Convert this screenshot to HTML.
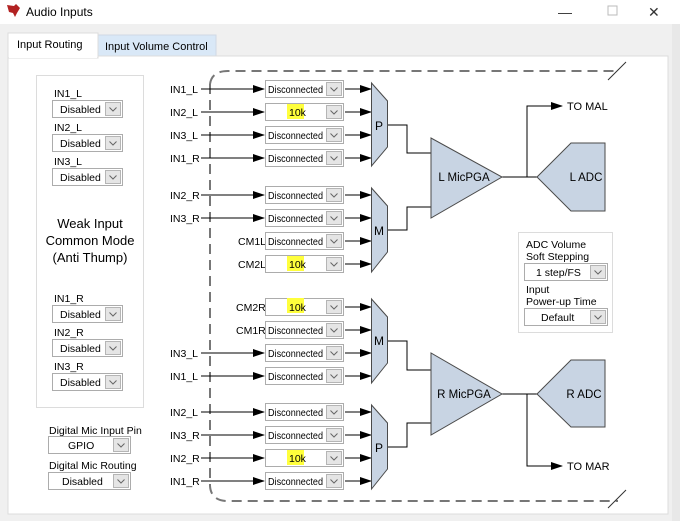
<!DOCTYPE html>
<html><head><meta charset="utf-8"><style>
html,body{margin:0;padding:0;background:#f0f0f0;}
svg{display:block;font-family:"Liberation Sans",sans-serif;}
.t{font-size:10.5px;fill:#000}
.d{font-size:10px}
.c{fill:#fff;stroke:#acacac;stroke-width:1}
.b{fill:#e5e5e5;stroke:#b5b5b5}
.v{fill:none;stroke:#666;stroke-width:1}
.w{stroke:#000;stroke-width:1;fill:none}
.s{fill:#c8d4e3;stroke:#4a4a4a;stroke-width:1}
</style></head><body>
<svg width="680" height="521" viewBox="0 0 680 521">
<defs>
<marker id="a" markerWidth="12" markerHeight="8" refX="11" refY="4" orient="auto" markerUnits="userSpaceOnUse"><path d="M0,0 L12,4 L0,8 Z" fill="#000"/></marker>
<g id="btn"><rect class="b" x="0" y="0" width="15" height="13"/><path class="v" d="M4,5 L7.5,8.5 L11,5"/></g>
</defs>
<rect x="0" y="0" width="680" height="24" fill="#fff"/>
<path d="M7,5 L14,6 L16,4 L20,8 L17,13 L15,17 L13,13 L9,12 Z" fill="#b22222"/>
<text x="26" y="16" style="font-size:12px">Audio Inputs</text>
<text x="558" y="17" style="font-size:14px" fill="#333">—</text>
<rect x="608" y="6" width="9" height="9" fill="none" stroke="#bbb"/>
<text x="648" y="17" style="font-size:14px" fill="#333">✕</text>
<rect x="672" y="24" width="8" height="497" fill="#e8e8e8"/>
<rect x="98" y="35" width="118" height="22" fill="#d9e8f7" stroke="#cfd9e4"/>
<text x="105" y="50" class="t" style="font-size:11px">Input Volume Control</text>
<rect x="8" y="56" width="660" height="458" fill="#fff" stroke="#dcdcdc"/>
<rect x="8" y="33" width="90" height="25" fill="#fff" stroke="#dcdcdc"/>
<rect x="9" y="55" width="88" height="3" fill="#fff"/>
<text x="17" y="48" class="t" style="font-size:11px">Input Routing</text>
<rect x="36.5" y="75.5" width="107" height="332" fill="#fff" stroke="#dcdcdc"/>
<g class="t">
<text x="54" y="97">IN1_L</text><text x="54" y="131">IN2_L</text><text x="54" y="165">IN3_L</text>
<text x="54" y="302">IN1_R</text><text x="54" y="336">IN2_R</text><text x="54" y="370">IN3_R</text>
</g>
<g>
<rect class="c" x="52.5" y="100.5" width="70" height="17"/><text class="t" x="60" y="113">Disabled</text><use href="#btn" x="105.5" y="102.5"/>
<rect class="c" x="52.5" y="134.5" width="70" height="17"/><text class="t" x="60" y="147">Disabled</text><use href="#btn" x="105.5" y="136.5"/>
<rect class="c" x="52.5" y="168.5" width="70" height="17"/><text class="t" x="60" y="181">Disabled</text><use href="#btn" x="105.5" y="170.5"/>
<rect class="c" x="52.5" y="305.5" width="70" height="17"/><text class="t" x="60" y="318">Disabled</text><use href="#btn" x="105.5" y="307.5"/>
<rect class="c" x="52.5" y="339.5" width="70" height="17"/><text class="t" x="60" y="352">Disabled</text><use href="#btn" x="105.5" y="341.5"/>
<rect class="c" x="52.5" y="373.5" width="70" height="17"/><text class="t" x="60" y="386">Disabled</text><use href="#btn" x="105.5" y="375.5"/>
</g>
<g style="font-size:13px" text-anchor="middle"><text x="90" y="228">Weak Input</text><text x="90" y="245">Common Mode</text><text x="90" y="262">(Anti Thump)</text></g>
<text class="t" x="49" y="434">Digital Mic Input Pin</text>
<rect class="c" x="48.5" y="436.5" width="82" height="17"/><text class="t" x="68" y="449">GPIO</text><use href="#btn" x="113.5" y="438.5"/>
<text class="t" x="49" y="469">Digital Mic Routing</text>
<rect class="c" x="48.5" y="472.5" width="82" height="17"/><text class="t" x="62" y="485">Disabled</text><use href="#btn" x="113.5" y="474.5"/>
<path d="M210,84 Q212,71 228,71 L618,71 M210,84 L210,486 Q211,500 226,501 L618,501" fill="none" stroke="#777" stroke-width="2" stroke-dasharray="10,6"/>
<path d="M608,80 L626,62 M608,508 L626,490" stroke="#333" stroke-width="1"/>
<g class="t">
<text x="170" y="93">IN1_L</text><text x="170" y="116">IN2_L</text><text x="170" y="139">IN3_L</text><text x="170" y="162">IN1_R</text>
<text x="170" y="199">IN2_R</text><text x="170" y="222">IN3_R</text><text x="238" y="245">CM1L</text><text x="238" y="268">CM2L</text>
<text x="236" y="311">CM2R</text><text x="236" y="334">CM1R</text><text x="170" y="357">IN3_L</text><text x="170" y="380">IN1_L</text>
<text x="170" y="416">IN2_L</text><text x="170" y="439">IN3_R</text><text x="170" y="462">IN2_R</text><text x="170" y="485">IN1_R</text>
</g>
<g class="w" marker-end="url(#a)">
<path d="M201,89H264"/><path d="M201,112H264"/><path d="M201,135H264"/><path d="M201,158H264"/>
<path d="M201,195H264"/><path d="M201,218H264"/>
<path d="M201,353H264"/><path d="M201,376H264"/>
<path d="M201,412H264"/><path d="M201,435H264"/><path d="M201,458H264"/><path d="M201,481H264"/>
<path d="M345,89H371"/><path d="M345,112H371"/><path d="M345,135H371"/><path d="M345,158H371"/>
<path d="M345,195H371"/><path d="M345,218H371"/><path d="M345,241H371"/><path d="M345,264H371"/>
<path d="M345,307H371"/><path d="M345,330H371"/><path d="M345,353H371"/><path d="M345,376H371"/>
<path d="M345,412H371"/><path d="M345,435H371"/><path d="M345,458H371"/><path d="M345,481H371"/>
</g>
<g>
<rect class="c" x="265.5" y="80.5" width="78" height="17"/><text class="t d" x="268" y="93" textLength="55" lengthAdjust="spacingAndGlyphs">Disconnected</text><use href="#btn" x="326.5" y="82.5"/>
<rect class="c" x="265.5" y="103.5" width="78" height="17"/><rect x="287" y="104" width="17" height="15" fill="#ffff3c"/><text class="t" x="289" y="116">10k</text><use href="#btn" x="326.5" y="105.5"/>
<rect class="c" x="265.5" y="126.5" width="78" height="17"/><text class="t d" x="268" y="139" textLength="55" lengthAdjust="spacingAndGlyphs">Disconnected</text><use href="#btn" x="326.5" y="128.5"/>
<rect class="c" x="265.5" y="149.5" width="78" height="17"/><text class="t d" x="268" y="162" textLength="55" lengthAdjust="spacingAndGlyphs">Disconnected</text><use href="#btn" x="326.5" y="151.5"/>
<rect class="c" x="265.5" y="186.5" width="78" height="17"/><text class="t d" x="268" y="199" textLength="55" lengthAdjust="spacingAndGlyphs">Disconnected</text><use href="#btn" x="326.5" y="188.5"/>
<rect class="c" x="265.5" y="209.5" width="78" height="17"/><text class="t d" x="268" y="222" textLength="55" lengthAdjust="spacingAndGlyphs">Disconnected</text><use href="#btn" x="326.5" y="211.5"/>
<rect class="c" x="265.5" y="232.5" width="78" height="17"/><text class="t d" x="268" y="245" textLength="55" lengthAdjust="spacingAndGlyphs">Disconnected</text><use href="#btn" x="326.5" y="234.5"/>
<rect class="c" x="265.5" y="255.5" width="78" height="17"/><rect x="287" y="256" width="17" height="15" fill="#ffff3c"/><text class="t" x="289" y="268">10k</text><use href="#btn" x="326.5" y="257.5"/>
<rect class="c" x="265.5" y="298.5" width="78" height="17"/><rect x="287" y="298" width="17" height="15" fill="#ffff3c"/><text class="t" x="289" y="311">10k</text><use href="#btn" x="326.5" y="300.5"/>
<rect class="c" x="265.5" y="321.5" width="78" height="17"/><text class="t d" x="268" y="334" textLength="55" lengthAdjust="spacingAndGlyphs">Disconnected</text><use href="#btn" x="326.5" y="323.5"/>
<rect class="c" x="265.5" y="344.5" width="78" height="17"/><text class="t d" x="268" y="357" textLength="55" lengthAdjust="spacingAndGlyphs">Disconnected</text><use href="#btn" x="326.5" y="346.5"/>
<rect class="c" x="265.5" y="367.5" width="78" height="17"/><text class="t d" x="268" y="380" textLength="55" lengthAdjust="spacingAndGlyphs">Disconnected</text><use href="#btn" x="326.5" y="369.5"/>
<rect class="c" x="265.5" y="403.5" width="78" height="17"/><text class="t d" x="268" y="416" textLength="55" lengthAdjust="spacingAndGlyphs">Disconnected</text><use href="#btn" x="326.5" y="405.5"/>
<rect class="c" x="265.5" y="426.5" width="78" height="17"/><text class="t d" x="268" y="439" textLength="55" lengthAdjust="spacingAndGlyphs">Disconnected</text><use href="#btn" x="326.5" y="428.5"/>
<rect class="c" x="265.5" y="449.5" width="78" height="17"/><rect x="287" y="450" width="17" height="15" fill="#ffff3c"/><text class="t" x="289" y="462">10k</text><use href="#btn" x="326.5" y="451.5"/>
<rect class="c" x="265.5" y="472.5" width="78" height="17"/><text class="t d" x="268" y="485" textLength="55" lengthAdjust="spacingAndGlyphs">Disconnected</text><use href="#btn" x="326.5" y="474.5"/>
</g>
<polygon class="s" points="371.5,83 387.5,101 387.5,147 371.5,166"/>
<polygon class="s" points="371.5,188 387.5,206 387.5,252 371.5,272"/>
<polygon class="s" points="371.5,299 387.5,317 387.5,363 371.5,383"/>
<polygon class="s" points="371.5,405 387.5,423 387.5,469 371.5,489"/>
<g style="font-size:12px" text-anchor="middle"><text x="379" y="130">P</text><text x="379" y="235">M</text><text x="379" y="345">M</text><text x="379" y="452">P</text></g>
<g class="w">
<path d="M388,125H407V153H431"/><path d="M388,230H407V207H431"/>
<path d="M388,341H407V370H431"/><path d="M388,447H407V423H431"/>
<path d="M502,177H537M527,177V106H550"/><path d="M502,394H537M527,394V466H550"/>
</g>
<g class="w" marker-end="url(#a)"><path d="M545,106H562"/><path d="M545,466H562"/></g>
<polygon class="s" points="431,138 431,218 502,177"/>
<polygon class="s" points="431,353 431,435 502,394"/>
<polygon class="s" points="537,177 571,143 605,143 605,211 571,211"/>
<polygon class="s" points="537,394 571,360 605,360 605,427 571,427"/>
<g style="font-size:11.5px" text-anchor="middle"><text x="464" y="181">L MicPGA</text><text x="464" y="398">R MicPGA</text><text x="586" y="181">L ADC</text><text x="584" y="398">R ADC</text></g>
<text x="567" y="110" style="font-size:11px">TO MAL</text>
<text x="567" y="470" style="font-size:11px">TO MAR</text>
<rect x="518.5" y="232.5" width="94" height="100" fill="#fff" stroke="#dcdcdc"/>
<g class="t"><text x="526" y="248">ADC Volume</text><text x="526" y="260">Soft Stepping</text><text x="526" y="293">Input</text><text x="526" y="305">Power-up Time</text></g>
<rect class="c" x="524.5" y="263.5" width="83" height="17"/><text class="t" x="536" y="276">1 step/FS</text><use href="#btn" x="590.5" y="265.5"/>
<rect class="c" x="524.5" y="308.5" width="83" height="17"/><text class="t" x="541" y="321">Default</text><use href="#btn" x="590.5" y="310.5"/>
</svg>
</body></html>
